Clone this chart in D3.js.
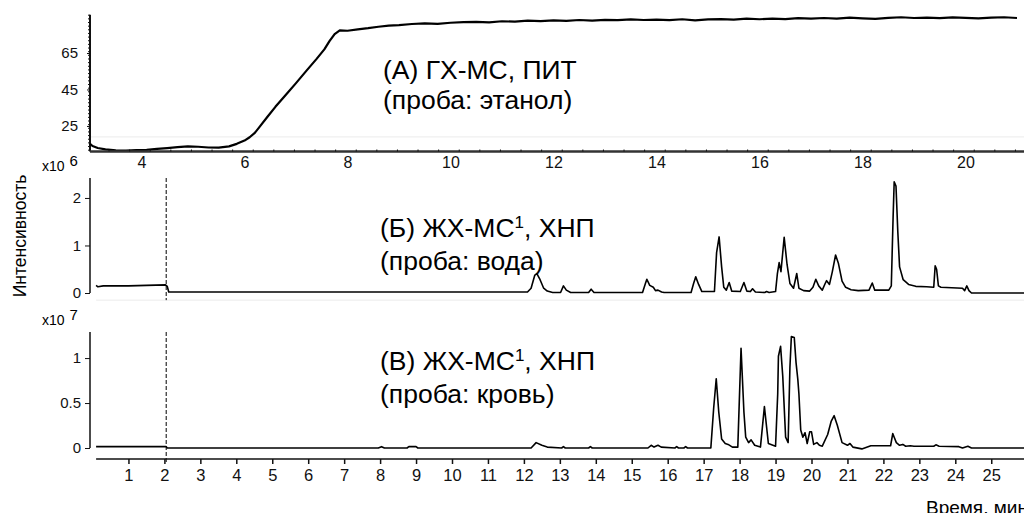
<!DOCTYPE html>
<html>
<head>
<meta charset="utf-8">
<script src="https://cdn.jsdelivr.net/npm/d3@7"></script>
<style>
    body { margin: 0; background: #fff; }
    svg { display: block; font-family: "Liberation Sans", Arial, sans-serif; }
    .tick text { font-size: 15px; fill: #111; }
    .axis path, .axis line { stroke: #111; }
    .trace { fill: none; stroke: #000; stroke-linejoin: round; }
    .note { font-size: 26.5px; fill: #000; }
</style>
</head>
<body>
<div id="chart"></div>
<script>
// (А) GC-MS total ion current, ethanol sample
const topTime = [3.0, 3.05, 3.15, 3.3, 3.5, 3.7, 3.9, 4.1, 4.3, 4.5, 4.7, 4.9, 5.1, 5.3, 5.5, 5.7, 5.85,
    6.0, 6.1, 6.2, 6.3, 6.45, 6.6, 6.8, 7.0, 7.2, 7.4, 7.55, 7.65, 7.75, 7.85, 8.0, 8.2, 8.4, 8.6, 8.8,
    9.0, 9.25, 9.5, 9.75, 10, 10.25, 10.5, 10.75, 11, 11.25, 11.5, 11.75, 12, 12.25, 12.5, 12.75, 13,
    13.25, 13.5, 13.75, 14, 14.25, 14.5, 14.75, 15, 15.25, 15.5, 15.75, 16, 16.25, 16.5, 16.75, 17,
    17.25, 17.5, 17.75, 18, 18.25, 18.5, 18.75, 19, 19.25, 19.5, 19.75, 20, 20.25, 20.5, 20.75, 21];
const topValue = [15.2, 14.0, 12.9, 12.2, 11.6, 11.5, 11.7, 11.9, 12.4, 12.9, 13.4, 13.8, 13.6, 13.2, 13.1, 13.8, 15.2,
    17.0, 18.8, 21.2, 24.8, 30.2, 35.5, 42.0, 48.5, 55.2, 61.8, 67.0, 71.5, 75.4, 77.4, 77.2, 78.0, 78.6, 79.4, 80.0,
    80.3, 80.9, 81.2, 81.0, 81.6, 81.9, 82.1, 81.8, 82.4, 82.2, 82.7, 82.5, 82.9, 82.6, 83.1, 82.8, 83.2,
    83.0, 83.4, 83.1, 83.3, 83.0, 83.5, 82.9, 83.4, 83.6, 83.3, 83.8, 83.5, 83.9, 83.6, 84.1, 83.8,
    84.2, 83.9, 84.4, 84.0, 83.7, 84.3, 84.6, 84.2, 84.4, 84.1, 84.5, 84.3, 84.0, 84.4, 84.6, 84.2];

// (Б) LC-MS, water sample (x10^6)
const midTime = [0.1, 0.15, 0.3, 1.0, 1.5, 2.03, 2.08, 2.12, 12.1, 12.2, 12.3, 12.36, 12.45, 12.55, 12.65, 12.8,
    13.02, 13.1, 13.18, 13.3, 13.8, 13.87, 13.95, 15.3, 15.38, 15.42, 15.5, 15.6, 15.66, 15.73, 15.83, 15.9,
    16.65, 16.72, 16.78, 16.86, 16.95, 17.3, 17.36, 17.43, 17.5, 17.56, 17.63, 17.71, 17.78, 18.02, 18.12, 18.2,
    18.3, 18.36, 18.44, 18.7, 18.75, 18.82, 19.0, 19.05, 19.1, 19.15, 19.24, 19.32, 19.4, 19.5, 19.59, 19.65,
    19.78, 19.95, 20.04, 20.12, 20.2, 20.3, 20.38, 20.42, 20.5, 20.58, 20.67, 20.75, 20.85, 20.95, 21.1, 21.3,
    21.6, 21.69, 21.76, 22.15, 22.22, 22.27, 22.3, 22.35, 22.4, 22.45, 22.55, 22.7, 22.9, 23.2, 23.4, 23.44,
    23.48, 23.53, 23.6, 23.9, 24.2, 24.26, 24.32, 24.38, 24.45, 26.2];
const midValue = [0.16, 0.13, 0.15, 0.15, 0.16, 0.17, 0.14, 0.02, 0.02, 0.1, 0.37, 0.41, 0.28, 0.1, 0.04, 0.01,
    0.01, 0.15, 0.06, 0.01, 0.01, 0.08, 0.01, 0.01, 0.2, 0.29, 0.16, 0.12, 0.05, 0.06, 0.02, 0.01,
    0.01, 0.2, 0.34, 0.18, 0.03, 0.03, 0.85, 1.18, 0.55, 0.12, 0.06, 0.22, 0.04, 0.03, 0.22, 0.04,
    0.03, 0.09, 0.02, 0.01, 0.03, 0.01, 0.03, 0.4, 0.64, 0.45, 1.17, 0.6, 0.2, 0.1, 0.41, 0.1,
    0.05, 0.04, 0.12, 0.29, 0.15, 0.06, 0.2, 0.26, 0.18, 0.45, 0.8, 0.62, 0.25, 0.12, 0.07, 0.05,
    0.06, 0.21, 0.06, 0.06, 0.15, 1.6, 2.34, 2.25, 1.3, 0.55, 0.28, 0.18, 0.14, 0.13, 0.12, 0.57,
    0.5, 0.15, 0.12, 0.11, 0.1, 0.05, 0.15, 0.05, 0.0, 0.0];

// (В) LC-MS, blood sample (x10^7)
const botTime = [0.1, 2.05, 2.08, 7.95, 8.04, 8.12, 8.75, 8.8, 9.0, 9.05, 12.2, 12.34, 12.5, 12.65, 13.05, 13.1,
    13.15, 13.8, 13.85, 13.9, 15.45, 15.54, 15.62, 15.73, 15.82, 16.2, 16.25, 16.3, 16.45, 16.5, 16.55, 17.2,
    17.28, 17.35, 17.42, 17.5, 17.6, 17.68, 17.8, 17.95, 18.04, 18.12, 18.17, 18.25, 18.32, 18.42, 18.58, 18.69,
    18.8, 19.0, 19.06, 19.08, 19.14, 19.2, 19.28, 19.35, 19.4, 19.44, 19.52, 19.57, 19.62, 19.65, 19.7, 19.76,
    19.82, 19.88, 19.95, 20.0, 20.06, 20.15, 20.22, 20.3, 20.45, 20.55, 20.63, 20.72, 20.85, 21.0, 21.07, 21.15,
    21.4, 21.65, 22.2, 22.26, 22.3, 22.36, 22.45, 22.54, 22.62, 22.75, 22.85, 23.2, 23.4, 23.46, 23.55, 24.1,
    24.2, 24.35, 24.45, 26.2];
const botValue = [0.015, 0.015, 0.0, 0.0, 0.015, 0.0, 0.0, 0.015, 0.015, 0.0, 0.0, 0.06, 0.03, 0.01, 0.0, 0.015,
    0.0, 0.0, 0.015, 0.0, 0.0, 0.03, 0.01, 0.03, 0.01, 0.0, 0.015, 0.0, 0.0, 0.015, 0.0, 0.0,
    0.45, 0.77, 0.4, 0.1, 0.05, 0.04, 0.01, 0.01, 1.11, 0.4, 0.12, 0.06, 0.09, 0.03, 0.01, 0.46,
    0.05, 0.02, 0.6, 1.02, 1.13, 0.8, 0.12, 0.06, 0.9, 1.24, 1.23, 0.95, 0.76, 0.6, 0.2, 0.12,
    0.17, 0.05, 0.18, 0.18, 0.04, 0.06, 0.03, 0.02, 0.15, 0.3, 0.36, 0.25, 0.06, 0.03, 0.05, 0.01,
    -0.01, 0.025, 0.025, 0.16, 0.12, 0.06, 0.03, 0.04, 0.02, 0.025, 0.02, 0.02, 0.02, 0.035, 0.02, 0.015,
    0.0, 0.02, 0.0, 0.0];

const topYTicks = [25, 45, 65];
const topXTicks = [4, 6, 8, 10, 12, 14, 16, 18, 20];
const midYTicks = [0, 1, 2];
const botYTicks = [0, 0.5, 1];
const timeTicks = [1, 2, 3, 4, 5, 6, 7, 8, 9, 10, 11, 12, 13, 14, 15, 16, 17, 18, 19, 20, 21, 22, 23, 24, 25];
const cutTime = 2.05;

const width = 1024;
const height = 513;

const svg = d3.select("#chart").append("svg")
    .attr("width", width)
    .attr("height", height);

// Scales
const xTop = d3.scaleLinear().domain([3, 21]).range([90, 1017]);
const yTop = d3.scaleLinear().domain([11, 86]).range([151.5, 14.7]);
const xTime = d3.scaleLinear().domain([0, 26]).range([92.5, 1027.2]);
const yMid = d3.scaleLinear().domain([0, 2.42]).range([293, 178]);
const yBot = d3.scaleLinear().domain([0, 1.29]).range([448, 332]);

const trace = (x, y, ts, vs) => d3.line()
    .x(i => x(ts[i]))
    .y(i => y(vs[i]))(d3.range(ts.length));

// ---------- Top panel (А) ----------
svg.append("line")
    .attr("x1", xTop(3)).attr("x2", width)
    .attr("y1", yTop(19)).attr("y2", yTop(19))
    .style("stroke", "#ebebeb");

svg.append("g")
    .attr("class", "axis")
    .attr("transform", "translate(" + xTop(3) + ",0)")
    .call(d3.axisLeft(yTop).tickValues(d3.range(12, 87, 2)).tickSize(2).tickFormat(""))
    .call(g => g.select(".domain").remove());

svg.append("g")
    .attr("class", "axis")
    .attr("transform", "translate(" + xTop(3) + ",0)")
    .call(d3.axisLeft(yTop).tickValues(topYTicks).tickSize(3).tickPadding(9))
    .call(g => g.select(".domain").attr("d", "M0," + yTop(86) + "V" + yTop(11)).style("stroke-width", 2));

svg.append("path")
    .attr("class", "trace")
    .attr("d", trace(xTop, yTop, topTime, topValue))
    .style("stroke-width", 2.2);

// x axis of panel A: thick baseline, small upward ticks, labels below
svg.append("g")
    .attr("class", "axis")
    .attr("transform", "translate(0," + yTop(11) + ")")
    .call(d3.axisBottom(xTop).tickValues(d3.range(3.36, 21, 0.4)).tickSize(-2).tickFormat(""))
    .call(g => g.select(".domain").attr("d", "M" + xTop(3) + ",0H" + width).style("stroke", "#333").style("stroke-width", 2.5));

svg.append("g")
    .attr("class", "axis")
    .attr("transform", "translate(0," + yTop(11) + ")")
    .call(d3.axisBottom(xTop).tickValues(topXTicks).tickSize(0).tickPadding(5))
    .call(g => g.selectAll(".tick text").style("font-size", "16px"))
    .call(g => g.select(".domain").remove());

svg.append("text").attr("class", "note").attr("x", 383).attr("y", 79).text("(А) ГХ-МС, ПИТ");
svg.append("text").attr("class", "note").attr("x", 383).attr("y", 109).text("(проба: этанол)");

// ---------- Middle panel (Б) ----------
svg.append("line")
    .attr("x1", xTime(0.1)).attr("x2", width)
    .attr("y1", yMid(-0.15)).attr("y2", yMid(-0.15))
    .style("stroke", "#ebebeb");

svg.append("g")
    .attr("class", "axis")
    .attr("transform", "translate(90,0)")
    .call(d3.axisLeft(yMid).tickValues(midYTicks).tickSize(5).tickPadding(4).tickFormat(d3.format("d")))
    .call(g => g.select(".domain").attr("d", "M0," + yMid(2.42) + "V" + yMid(0)).style("stroke-width", 1.5));

svg.append("path")
    .attr("class", "trace")
    .attr("d", trace(xTime, yMid, midTime, midValue))
    .style("stroke-width", 1.6);

svg.append("line")
    .attr("x1", xTime(cutTime)).attr("x2", xTime(cutTime))
    .attr("y1", yMid(2.42)).attr("y2", yMid(-0.15))
    .style("stroke", "#000").style("stroke-dasharray", "4,2");

const mNote = svg.append("text").attr("class", "note").attr("x", 380).attr("y", 237);
mNote.append("tspan").text("(Б) ЖХ-МС");
mNote.append("tspan").attr("dy", -9).style("font-size", "17px").text("1");
mNote.append("tspan").attr("dy", 9).text(", ХНП");
svg.append("text").attr("class", "note").attr("x", 380).attr("y", 270).text("(проба: вода)");

// scale factor labels
const factor = (y, p) => {
    const t = svg.append("text").attr("x", 42).attr("y", y).style("font-size", "14px");
    t.append("tspan").text("x10");
    t.append("tspan").attr("dx", 5).attr("dy", -5).style("font-size", "15px").text(p);
};
factor(171, "6");
factor(325, "7");

// ---------- Bottom panel (В) ----------
svg.append("g")
    .attr("class", "axis")
    .attr("transform", "translate(90,0)")
    .call(d3.axisLeft(yBot).tickValues(botYTicks).tickSize(5).tickPadding(4).tickFormat(d3.format("")))
    .call(g => g.select(".domain").attr("d", "M0," + yBot(1.29) + "V" + yBot(0)).style("stroke-width", 1.5));

svg.append("path")
    .attr("class", "trace")
    .attr("d", trace(xTime, yBot, botTime, botValue))
    .style("stroke-width", 1.6);

svg.append("line")
    .attr("x1", xTime(cutTime)).attr("x2", xTime(cutTime))
    .attr("y1", yBot(1.29)).attr("y2", 464)
    .style("stroke", "#000").style("stroke-dasharray", "4,2");

svg.append("g")
    .attr("class", "axis")
    .attr("transform", "translate(0,459)")
    .call(d3.axisBottom(xTime).tickValues(timeTicks).tickSize(5).tickPadding(5).tickFormat(d3.format("d")))
    .call(g => g.selectAll(".tick text").style("font-size", "16.5px"))
    .call(g => g.select(".domain").attr("d", "M" + xTime(0.1) + ",0H" + width).style("stroke-width", 1.5))
    .call(g => g.selectAll(".tick line").style("stroke-width", 1.5));

const bNote = svg.append("text").attr("class", "note").attr("x", 380).attr("y", 370);
bNote.append("tspan").text("(В) ЖХ-МС");
bNote.append("tspan").attr("dy", -9).style("font-size", "17px").text("1");
bNote.append("tspan").attr("dy", 9).text(", ХНП");
svg.append("text").attr("class", "note").attr("x", 380).attr("y", 403).text("(проба: кровь)");

// Axis titles
svg.append("text")
    .attr("transform", "translate(26,236) rotate(-90)")
    .style("text-anchor", "middle")
    .style("font-size", "17.5px")
    .text("Интенсивность");

svg.append("text")
    .attr("x", 926)
    .attr("y", 514)
    .style("font-size", "19px")
    .text("Время, мин");
</script>
</body>
</html>
